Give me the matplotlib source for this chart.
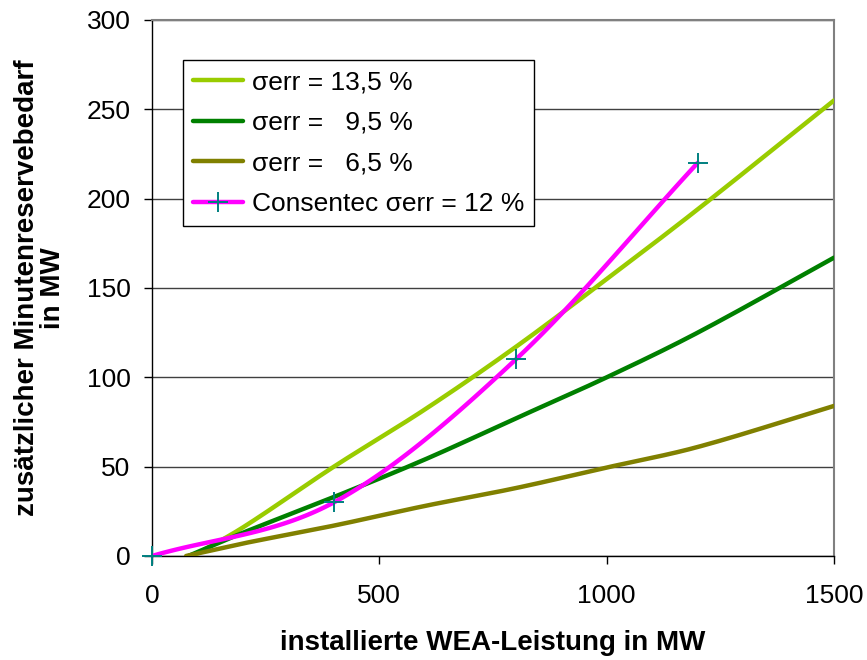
import matplotlib.pyplot as plt
from matplotlib.lines import Line2D
import numpy as np

plt.rcParams["font.family"] = ["Liberation Sans", "DejaVu Sans"]

# sigma_err = 13,5 %
X_HIGH = [90, 200, 400, 600, 800, 1000, 1200, 1500]
Y_HIGH = [0, 16, 50, 82, 117, 155, 194, 255]
# sigma_err = 9,5 %
X_MID = [80, 200, 400, 600, 800, 1000, 1200, 1500]
Y_MID = [0, 13, 33, 54, 77, 100, 125, 167]
# sigma_err = 6,5 %
X_LOW = [75, 200, 400, 600, 800, 1000, 1200, 1500]
Y_LOW = [0, 7, 17, 28, 38, 49.5, 61, 84]
# Consentec sigma_err = 12 %
X_CONS = [0, 400, 800, 1200]
Y_CONS = [0, 30, 110, 220]

LABELS = [
    "σerr = 13,5 %",
    "σerr =   9,5 %",
    "σerr =   6,5 %",
    "Consentec σerr = 12 %",
]
COLORS = ["#99CC00", "#008000", "#808000", "#FF00FF"]
MARKER_COLOR = "#008080"

X_TICKS = [0, 500, 1000, 1500]
Y_TICKS = [0, 50, 100, 150, 200, 250, 300]

FS = 19
LABEL_FS = 20


def smooth_curve(xs, ys, n=40):
    # cubic Hermite through the points, like a spreadsheet "smoothed line"
    x = np.asarray(xs, float)
    y = np.asarray(ys, float)
    m = np.empty_like(y)
    m[1:-1] = (y[2:] - y[:-2]) / (x[2:] - x[:-2])
    m[0] = (y[1] - y[0]) / (x[1] - x[0])
    m[-1] = (y[-1] - y[-2]) / (x[-1] - x[-2])
    out_x, out_y = [], []
    for i in range(len(x) - 1):
        h = x[i + 1] - x[i]
        t = np.linspace(0, 1, n, endpoint=False)
        h00 = 2 * t**3 - 3 * t**2 + 1
        h10 = t**3 - 2 * t**2 + t
        h01 = -2 * t**3 + 3 * t**2
        h11 = t**3 - t**2
        out_x.append(x[i] + t * h)
        out_y.append(h00 * y[i] + h10 * h * m[i] + h01 * y[i + 1] + h11 * h * m[i + 1])
    out_x.append([x[-1]])
    out_y.append([y[-1]])
    return np.concatenate(out_x), np.concatenate(out_y)


fig = plt.figure(figsize=(8.67, 6.6), dpi=100)
ax = fig.add_axes([0.1753, 0.1576, 0.962 - 0.1753, 0.9697 - 0.1576])

ax.set_xlim(0, 1500)
ax.set_ylim(0, 300)
ax.set_xticks(X_TICKS)
ax.set_yticks(Y_TICKS)
ax.yaxis.grid(True, color="#404040", linewidth=1.0)
ax.set_axisbelow(True)

for spine in ("left", "bottom"):
    ax.spines[spine].set_color("black")
    ax.spines[spine].set_linewidth(1.0)
for spine in ("top", "right"):
    ax.spines[spine].set_color("#808080")
    ax.spines[spine].set_linewidth(1.5)

ax.tick_params(axis="both", direction="out", length=5.5, width=1.0,
               labelsize=FS, colors="black")
ax.tick_params(axis="x", pad=15)
ax.tick_params(axis="y", pad=10)

lw = 3.2
series = [(X_HIGH, Y_HIGH), (X_MID, Y_MID), (X_LOW, Y_LOW)]
for (xs, ys), color in zip(series, COLORS[:3]):
    sx, sy = smooth_curve(xs, ys)
    ax.plot(sx, sy, color=color, lw=lw, solid_capstyle="round", zorder=3)

sx, sy = smooth_curve(X_CONS, Y_CONS)
ax.plot(sx, sy, color=COLORS[3], lw=lw, solid_capstyle="round", zorder=4)
ax.plot(X_CONS, Y_CONS, linestyle="none", marker="+", markersize=14,
        markeredgewidth=1.4, color=MARKER_COLOR, zorder=5, clip_on=False)

handles = [
    Line2D([], [], color=COLORS[0], lw=lw, solid_capstyle="round"),
    Line2D([], [], color=COLORS[1], lw=lw, solid_capstyle="round"),
    Line2D([], [], color=COLORS[2], lw=lw, solid_capstyle="round"),
    Line2D([], [], color=COLORS[3], lw=lw, solid_capstyle="round",
           marker="+", markersize=14, markeredgewidth=1.4,
           markeredgecolor=MARKER_COLOR),
]
leg = ax.legend(
    handles,
    LABELS,
    loc="upper left",
    bbox_to_anchor=(0.045, 0.925),
    borderaxespad=0,
    fontsize=FS,
    frameon=True,
    fancybox=False,
    framealpha=1,
    edgecolor="black",
    handlelength=1.9,
    handletextpad=0.35,
    labelspacing=0.63,
    borderpad=0.38,
)
leg.get_frame().set_linewidth(1.0)

ax.set_xlabel("installierte WEA-Leistung in MW", fontsize=LABEL_FS,
              fontweight="bold")
ax.xaxis.set_label_coords(0.5, -0.138)
ax.set_ylabel("zusätzlicher Minutenreservebedarf\nin MW", fontsize=LABEL_FS,
              fontweight="bold", linespacing=1.0)
ax.yaxis.set_label_coords(-0.126, 0.5)

fig.savefig("out.png", dpi=100)
